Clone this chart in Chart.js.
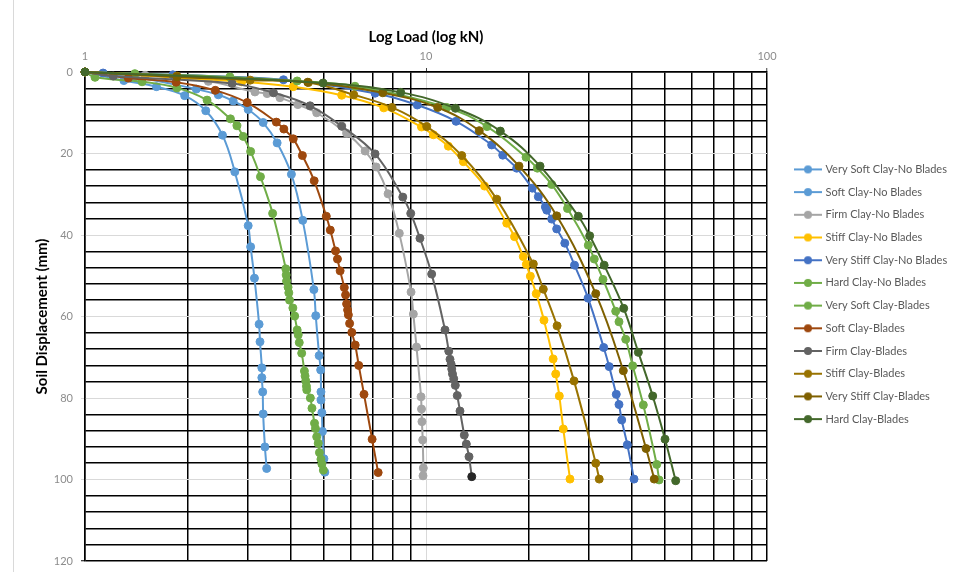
<!DOCTYPE html>
<html><head><meta charset="utf-8">
<script src="https://cdn.jsdelivr.net/npm/chart.js@4/dist/chart.umd.min.js"></script>
<style>
html,body{margin:0;padding:0;background:#fff;}
#wrap{position:relative;width:955px;height:572px;overflow:hidden;background:#fff;}
#frame{position:absolute;left:13px;top:0;width:1px;height:572px;background:#d9d9d9;}
canvas{position:absolute;left:0;top:0;}
</style></head><body>
<div id="wrap"><div id="frame"></div><canvas id="c" width="955" height="572"></canvas></div>
<script>
// ---- data (load in kN, soil displacement in mm) ----
const seriesNames = ['Very Soft Clay-No Blades','Soft Clay-No Blades','Firm Clay-No Blades','Stiff Clay-No Blades','Very Stiff Clay-No Blades','Hard Clay-No Blades','Very Soft Clay-Blades','Soft Clay-Blades','Firm Clay-Blades','Stiff Clay-Blades','Very Stiff Clay-Blades','Hard Clay-Blades'];

const vsNbLoad = [1, 1.3, 1.62, 1.96, 2.26, 2.53, 2.75, 3.01, 3.06, 3.14, 3.24, 3.26, 3.30, 3.30, 3.32, 3.33, 3.37, 3.41];
const vsNbDisp = [0, 2.1, 3.6, 5.8, 9.5, 15.5, 24.5, 37.7, 42.9, 50.6, 61.9, 66.2, 72.6, 75.0, 78.5, 83.9, 92.0, 97.3];

const sNbLoad = [1, 1.4, 2.12, 2.46, 2.72, 3.01, 3.33, 3.66, 4.03, 4.35, 4.69, 4.75, 4.86, 4.91, 4.92, 4.92, 4.95, 4.97, 5.02, 5.05];
const sNbDisp = [0, 1.2, 4.2, 5.6, 7.1, 9.2, 12.4, 17.4, 25.1, 36.4, 53.4, 59.8, 69.6, 73.1, 78.5, 80.5, 83.6, 88.2, 94.9, 98.2];

const fNbLoad = [1, 1.5, 2.3, 3.15, 3.42, 3.73, 4.21, 4.78, 5.85, 6.63, 7.14, 7.74, 8.35, 9.04, 9.18, 9.38, 9.67, 9.70, 9.73, 9.78, 9.82, 9.80];
const fNbDisp = [0, 0.8, 2.3, 4.9, 5.3, 6.3, 8.0, 10.0, 15.0, 19.4, 23.3, 29.9, 39.6, 54.0, 59.4, 67.5, 79.7, 82.7, 85.8, 90.3, 97.2, 99.1];

const stNbLoad = [1, 2.88, 4.08, 5.66, 7.52, 9.70, 10.51, 11.63, 12.87, 14.85, 17.25, 18.18, 19.29, 19.69, 20.23, 21.05, 22.18, 23.6, 24.01, 24.6, 25.27, 26.44];
const stNbDisp = [0, 2.4, 3.6, 5.7, 8.8, 13.5, 15.4, 18.2, 22.0, 28.0, 37.1, 40.4, 45.3, 47.2, 50.1, 54.4, 60.9, 70.4, 74.1, 79.5, 87.6, 99.9];

const vstNbLoad = [1, 1.13, 1.81, 3.82, 7.09, 9.43, 12.25, 15.58, 16.79, 18.45, 20.5, 21.35, 22.39, 22.6, 23.37, 24.17, 25.53, 27.26, 29.87, 33.2, 34.45, 36.14, 36.81, 37.49, 38.94, 40.74];
const vstNbDisp = [0, 0.25, 0.7, 1.9, 5.2, 8.1, 12.1, 17.9, 20.4, 23.6, 28.5, 30.6, 33.1, 33.9, 36.1, 38.5, 42.0, 47.4, 55.5, 67.6, 72.3, 79.1, 81.6, 85.4, 91.5, 99.9];

const hNbLoad = [1, 1.40, 2.66, 4.19, 6.19, 11.5, 15.1, 19.65, 21.21, 23.37, 26.0, 29.92, 31.15, 33.04, 36.0, 36.81, 38.52, 40.38, 43.38, 47.49, 48.25];
const hNbDisp = [0, 0.4, 1.2, 2.2, 3.5, 8.7, 13.4, 20.9, 23.6, 27.6, 33.5, 42.5, 45.9, 50.9, 58.7, 61.3, 65.6, 72.1, 81.7, 96.3, 100.1];

const vsBLoad = [1, 1.07, 1.47, 1.86, 2.28, 2.67, 2.79, 2.91, 3.06, 3.27, 3.55, 3.88, 3.89, 3.90, 3.94, 3.96, 3.98, 4.07, 4.12, 4.19, 4.22, 4.25, 4.32, 4.40, 4.42, 4.44, 4.46, 4.47, 4.58, 4.63, 4.71, 4.74, 4.78, 4.83, 4.87, 4.92, 4.95, 5.00];
const vsBDisp = [0, 1.3, 2.4, 3.9, 6.9, 11.5, 13.2, 15.8, 19.5, 25.7, 34.7, 48.3, 49.8, 51.3, 52.8, 54.2, 56.0, 57.9, 59.9, 63.3, 64.5, 66.4, 69.0, 73.4, 74.6, 75.8, 77.1, 78.0, 80.0, 82.5, 86.2, 87.5, 89.5, 91.1, 93.4, 95.0, 96.2, 97.7];

const sBLoad = [1, 1.34, 1.85, 2.41, 2.99, 3.64, 3.83, 4.08, 4.34, 4.70, 5.10, 5.24, 5.43, 5.50, 5.60, 5.76, 5.81, 5.85, 5.89, 5.92, 5.97, 6.06, 6.20, 6.35, 6.58, 6.95, 7.24];
const sBDisp = [0, 1.5, 2.5, 4.5, 7.5, 12.3, 14.0, 16.4, 20.5, 26.7, 35.4, 38.8, 43.9, 45.9, 48.8, 52.9, 54.7, 56.9, 58.4, 59.6, 61.7, 63.9, 67.0, 72.0, 79.1, 90.1, 98.3];

const fBLoad = [1, 1.21, 2.70, 3.57, 4.57, 5.66, 7.09, 8.55, 9.02, 9.60, 10.39, 11.37, 11.66, 11.76, 11.85, 11.90, 11.96, 12.06, 12.19, 12.35, 12.58, 12.95, 13.13, 13.37, 13.62];
const fBDisp = [0, 1.0, 2.8, 5.1, 8.3, 13.3, 20.1, 30.7, 34.7, 40.8, 49.6, 63.3, 68.5, 70.5, 71.7, 72.9, 74.1, 75.3, 76.9, 79.4, 83.2, 89.1, 91.3, 94.4, 99.3];

const stBLoad = [1, 1.86, 3.05, 4.52, 6.14, 7.95, 10.05, 12.73, 16.12, 20.64, 22.08, 24.23, 27.17, 31.46, 32.21];
const stBDisp = [0, 1.0, 2.0, 2.6, 5.6, 8.7, 13.4, 20.5, 31.2, 47.1, 53.3, 62.3, 75.8, 96.0, 99.9];

const vstBLoad = [1, 1.86, 4.50, 7.47, 10.82, 14.33, 18.74, 24.17, 31.46, 37.9, 44.19, 46.7];
const vstBDisp = [0, 1.2, 2.5, 5.1, 8.7, 14.4, 23.1, 35.3, 54.4, 73.3, 92.4, 99.9];

const hBLoad = [1, 4.99, 8.43, 12.2, 16.52, 21.6, 27.97, 30.2, 33.3, 38.0, 41.95, 46.22, 50.23, 53.98];
const hBDisp = [0, 2.7, 5.0, 8.9, 14.5, 23.1, 35.4, 40.2, 47.4, 58.0, 68.8, 79.5, 90.1, 100.3];

const loadTickValues = [1,2,3,4,5,6,7,8,9,10,20,30,40,50,60,70,80,90,100];
const dispMin = 0, dispMax = 120, dispStep = 4, dispLabelStep = 20;

// ---- assembly ----
const seriesLoads = [vsNbLoad, sNbLoad, fNbLoad, stNbLoad, vstNbLoad, hNbLoad, vsBLoad, sBLoad, fBLoad, stBLoad, vstBLoad, hBLoad];
const seriesDisps = [vsNbDisp, sNbDisp, fNbDisp, stNbDisp, vstNbDisp, hNbDisp, vsBDisp, sBDisp, fBDisp, stBDisp, vstBDisp, hBDisp];
const seriesColors = ['#5B9BD5','#5B9BD5','#A5A5A5','#FFC000','#4472C4','#70AD47','#70AD47','#9E480E','#636363','#997300','#7F6000','#43682B'];

function makeIcon(color){
  const c = document.createElement('canvas'); c.width = 28; c.height = 10;
  const g = c.getContext('2d');
  g.strokeStyle = color; g.lineWidth = 2;
  g.beginPath(); g.moveTo(0,5); g.lineTo(28,5); g.stroke();
  g.fillStyle = color; g.beginPath(); g.arc(14,5,4,0,Math.PI*2); g.fill();
  return c;
}
const icons = seriesColors.map(makeIcon);

const datasets = seriesNames.map((name, i) => {
  const n = seriesLoads[i].length;
  const ptCol = ctx => (i === 8 && ctx.dataIndex === n - 1) ? '#262626' : seriesColors[i];
  return {
    label: name,
    data: seriesLoads[i].map((x, j) => ({x: x, y: seriesDisps[i][j]})),
    showLine: true,
    borderColor: seriesColors[i],
    backgroundColor: seriesColors[i],
    pointBackgroundColor: ptCol,
    pointBorderColor: ptCol,
    pointRadius: 4, pointHoverRadius: 4, pointBorderWidth: 1,
    borderWidth: 2, tension: 0.4, clip: false,
    order: seriesNames.length - i
  };
});

const isDecade = v => Math.abs(Math.log10(v) - Math.round(Math.log10(v))) < 1e-9;
const GRID_MINOR = '#000000', GRID_MAJOR = '#d9d9d9', TICK_COL = '#8c8c8c';
const FONT = 'Lato';

const legendPos = {
  id: 'legendPos',
  afterInit(chart) {
    const lg = chart.legend;
    if (lg) {
      const orig = lg.fit.bind(lg);
      lg.fit = function(){ orig(); this.width = 188; };
    }
  },
  afterLayout(chart) {
    const lg = chart.legend;
    if (lg) { lg.left += 17.3; lg.right += 17.3; lg.top += 13.75; lg.bottom += 13.75; }
  }
};

new Chart(document.getElementById('c'), {
  type: 'scatter',
  data: { datasets },
  plugins: [legendPos],
  options: {
    responsive: false, animation: false, devicePixelRatio: 1,
    layout: { padding: { left: 0, top: 0, right: 0, bottom: 11 } },
    plugins: {
      tooltip: { enabled: false },
      legend: {
        position: 'right', align: 'center',
        labels: {
          usePointStyle: true, pointStyleWidth: 24, padding: 11.7,
          color: '#595959', font: { family: FONT, size: 11 },
          sort: (a, b) => a.datasetIndex - b.datasetIndex,
          generateLabels: chart => Chart.defaults.plugins.legend.labels.generateLabels(chart)
            .map(it => Object.assign(it, { pointStyle: icons[it.datasetIndex] }))
        }
      }
    },
    scales: {
      x: {
        type: 'logarithmic', position: 'top', min: 1, max: 100,
        afterBuildTicks: s => { s.ticks = loadTickValues.map(v => ({ value: v, major: isDecade(v) })); },
        afterFit: s => { s.height = 72; },
        ticks: {
          autoSkip: false, maxRotation: 0, padding: 5, color: TICK_COL,
          font: { family: FONT, size: 11 },
          callback: v => isDecade(v) ? String(v) : ''
        },
        grid: {
          color: c => (c.tick && c.tick.value === 10) ? GRID_MAJOR : GRID_MINOR,
          lineWidth: c => (c.tick && c.tick.value === 10) ? 1 : 1.5,
          drawTicks: true, tickLength: 4, tickWidth: 1,
          tickColor: c => (c.tick && isDecade(c.tick.value)) ? '#404040' : 'rgba(0,0,0,0)'
        },
        border: { display: true, color: '#000', width: 1.5 },
        title: { display: true, text: 'Log Load (log kN)', color: '#000',
          font: { family: FONT, size: 15, weight: 'bold' }, padding: { top: 28, bottom: 0 } }
      },
      y: {
        type: 'linear', reverse: true, min: dispMin, max: dispMax,
        afterFit: s => { s.width = 85; s.paddingTop = 0; s.paddingBottom = 0; },
        ticks: {
          stepSize: dispStep, autoSkip: false, padding: 8, color: TICK_COL,
          font: { family: FONT, size: 11 },
          callback: v => (v % dispLabelStep === 0) ? String(v) : ''
        },
        grid: {
          color: c => { const v = c.tick ? c.tick.value : -1; return (v % dispLabelStep === 0 && v !== dispMin && v !== dispMax) ? GRID_MAJOR : GRID_MINOR; },
          lineWidth: c => { const v = c.tick ? c.tick.value : -1; return (v % dispLabelStep === 0 && v !== dispMin && v !== dispMax) ? 1 : 1.5; },
          drawTicks: true, tickLength: 4, tickWidth: 1,
          tickColor: c => { const v = c.tick ? c.tick.value : -1; if (v % dispLabelStep !== 0) return 'rgba(0,0,0,0)'; return (v === dispMin || v === dispMax) ? '#000' : GRID_MAJOR; }
        },
        border: { display: true, color: '#000', width: 1.5 },
        title: { display: true, text: 'Soil Displacement (mm)', color: '#000',
          font: { family: FONT, size: 15, weight: 'bold' }, padding: { top: 33, bottom: 0 } }
      }
    }
  }
});
</script>
</body></html>
